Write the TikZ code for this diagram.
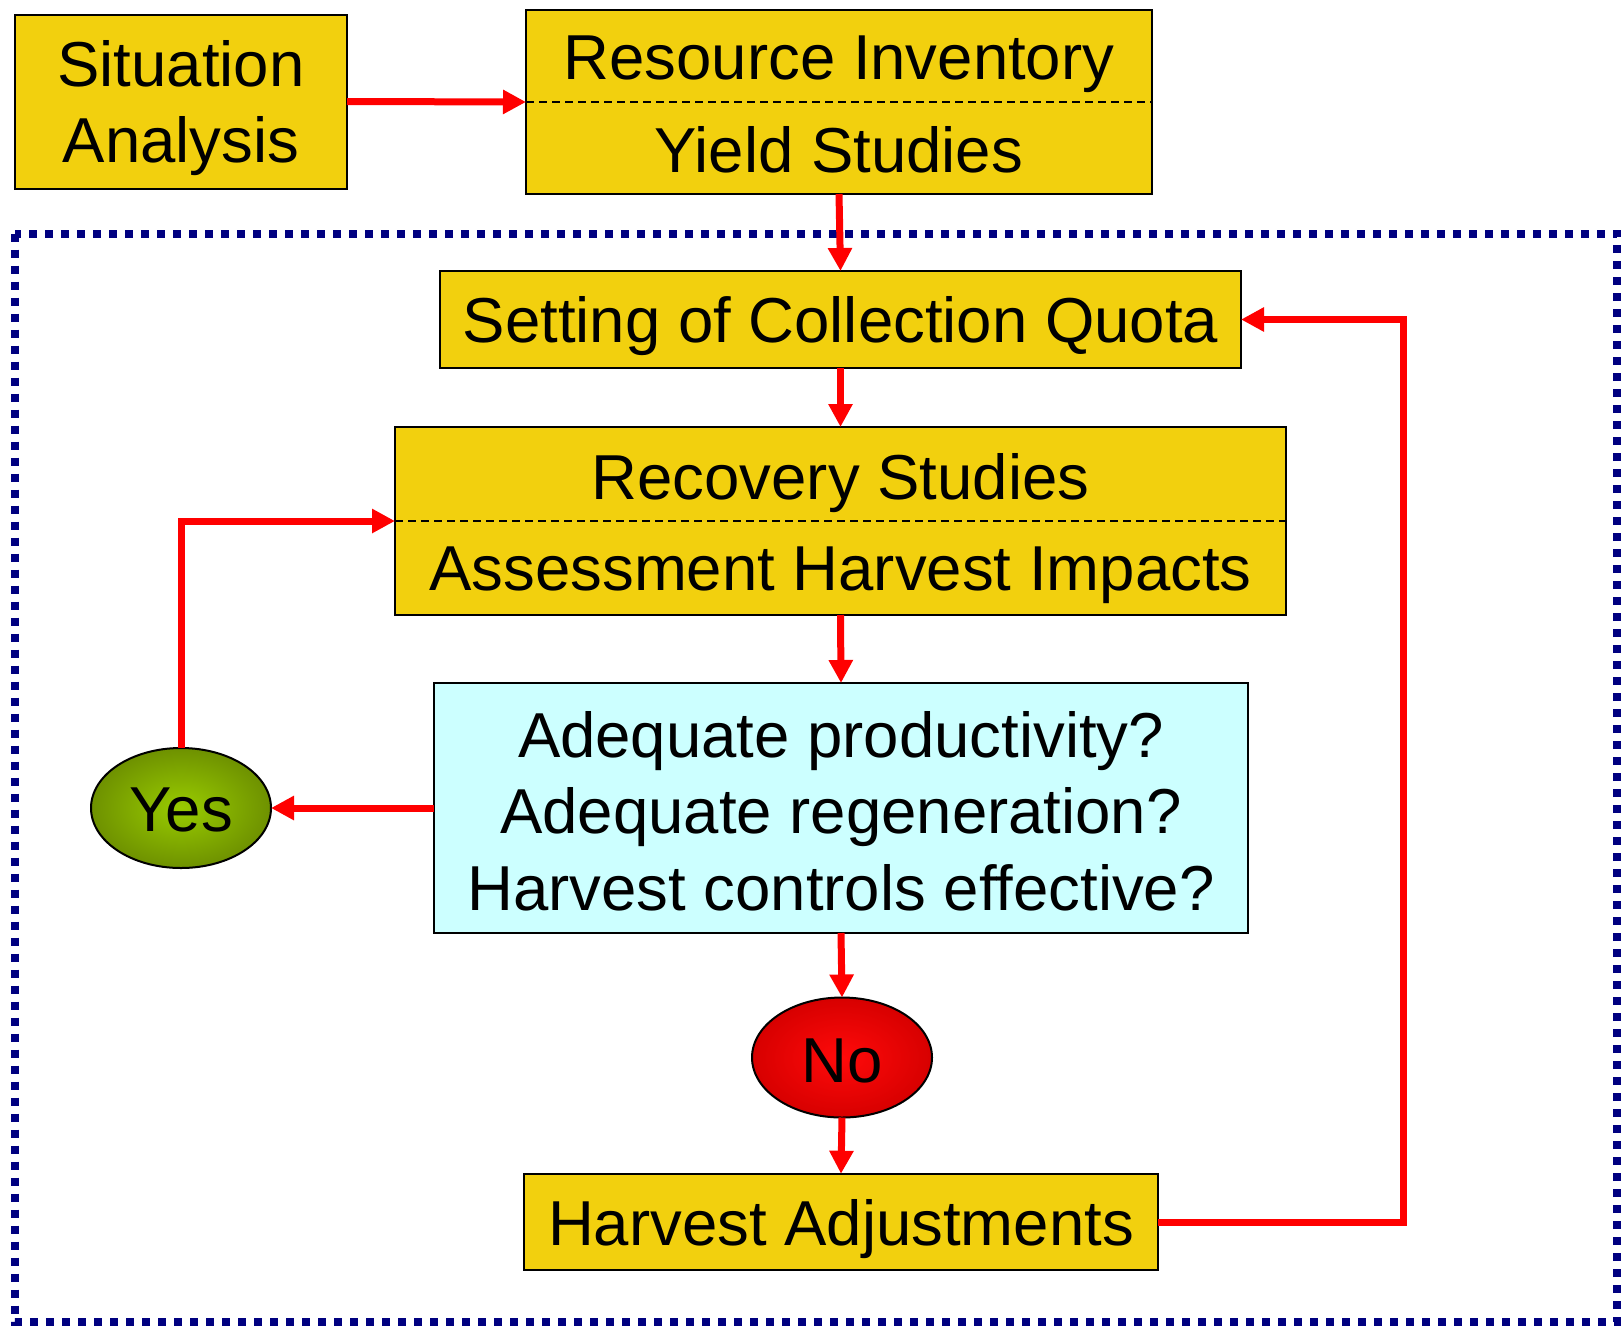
\documentclass[tikz,border=0pt]{standalone}
\usepackage{fontspec}
\setmainfont{Liberation Sans}
\usetikzlibrary{arrows.meta,shapes.geometric}
\definecolor{boxyellow}{RGB}{242,208,14}
\definecolor{qcyan}{RGB}{204,255,255}
\definecolor{linkred}{RGB}{255,0,0}
\definecolor{frameblue}{RGB}{0,0,128}
\begin{document}
\begin{tikzpicture}[x=1pt,y=-1pt,
  every node/.style={font=\fontsize{63.5}{76.5}\selectfont, inner sep=0pt, outer sep=0pt},
  stagebox/.style={draw=black, line width=2pt, fill=boxyellow, rectangle, align=center, text depth=0pt},
  askbox/.style={draw=black, line width=2pt, fill=qcyan, rectangle, align=center},
  answer/.style={draw=black, line width=2pt, ellipse, minimum width=180pt, minimum height=120pt},
  link/.style={draw=linkred, line width=7pt, -{Triangle[length=23pt,width=23pt]}},
  splitline/.style={draw=black, line width=1.5pt, dash pattern=on 8pt off 5pt},
  label/.style={fill=none, draw=none}]
\useasboundingbox (0,0) rectangle (1624,1326);

% outer monitoring loop frame
\draw[frameblue, line width=8pt, dash pattern=on 8pt off 8pt] (14.5,233.5) rectangle (1617,1322);

% boxes
\node[stagebox, minimum width=332pt, minimum height=174pt] (sit) at (181,101.5)
  {Situation\\Analysis};
\node[stagebox, minimum width=626pt, minimum height=184pt] (res) at (839,102) {};
\node[label] (resA) at (839,64) {Resource Inventory};
\node[label] (resB) at (839,150) {Yield Studies};
\draw[splitline] (res.west) -- (res.east);

\node[stagebox, minimum width=801pt, minimum height=97pt] (quota) at (840.5,319.5)
  {Setting of Collection Quota};

\node[stagebox, minimum width=891pt, minimum height=188pt] (rec) at (840.5,521) {};
\node[label] (recA) at (840.5,483.5) {Recovery Studies};
\node[label] (recB) at (840.5,575.5) {Assessment Harvest Impacts};
\draw[splitline] (rec.west) -- (rec.east);

\node[askbox, minimum width=814pt, minimum height=250pt] (ask) at (841,808) {};
\node[label, align=center] (askText) at (841,811)
  {Adequate productivity?\\Adequate regeneration?\\Harvest controls effective?};

\node[answer, shading=radial, inner color={rgb,255:red,153;green,204;blue,0}, outer color={rgb,255:red,110;green,145;blue,0}] (yes) at (181,808) {};
\node[label] (yesText) at (181,809.5) {Yes};
\node[answer, shading=radial, inner color={rgb,255:red,255;green,10;blue,10}, outer color={rgb,255:red,215;green,0;blue,0}] (no) at (842,1057.5) {};
\node[label] (noText) at (842,1060.5) {No};

\node[stagebox, minimum width=634pt, minimum height=96.5pt] (adj) at (841,1222)
  {Harvest Adjustments};

% connectors
\draw[link] (sit.east) -- (res.west);
\draw[link] (res.south) -- (quota.north);
\draw[link] (quota.south) -- (rec.north);
\draw[link] (rec.south) -- (ask.north);
\draw[link] (ask.west) -- (yes.east);
\draw[link] (yes.north) |- (rec.west);
\draw[link] (ask.south) -- (no.north);
\draw[link] (no.south) -- (adj.north);
\coordinate (loop) at (1403,0);
\draw[link] (adj.east) -| (loop |- quota.east) -- (quota.east);
\end{tikzpicture}
\end{document}
